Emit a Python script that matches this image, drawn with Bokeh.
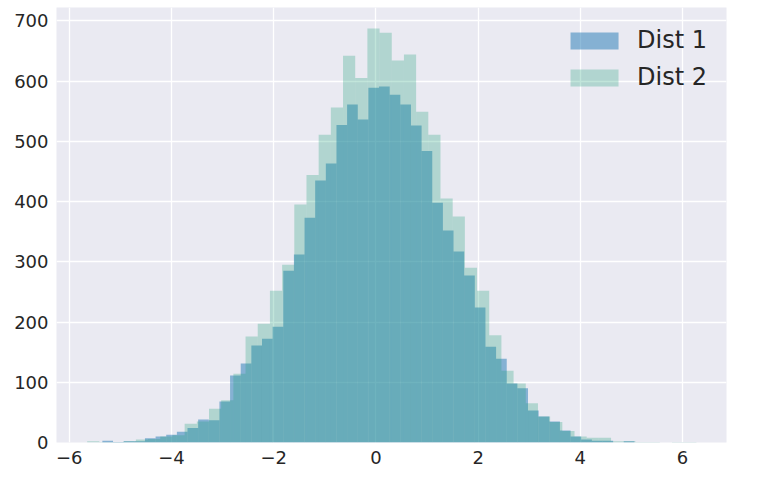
import numpy as np
from bokeh.plotting import figure
from bokeh.models import FixedTicker, Range1d, Legend, LegendItem
from bokeh.embed import file_html
from bokeh.resources import INLINE

# ---- data ----
series_names = ["Dist 1", "Dist 2"]

dist1_first_edge = -5.352
dist1_bin_width = 0.2082
dist1_counts = [3, 1, 2, 2, 7, 10, 13, 18, 24, 38,
                37, 68, 111, 131, 161, 172, 192, 285, 312, 373,
                435, 463, 527, 561, 536, 589, 591, 577, 561, 526,
                484, 398, 352, 317, 277, 224, 159, 139, 98, 90,
                53, 43, 35, 20, 10, 5, 3, 3, 0, 2]

dist2_first_edge = -5.65
dist2_bin_width = 0.2384
dist2_counts = [2, 1, 1, 2, 5, 6, 10, 12, 31, 35,
                56, 70, 114, 176, 197, 252, 295, 395, 444, 511,
                556, 642, 605, 687, 680, 634, 644, 549, 511, 405,
                375, 290, 252, 178, 119, 98, 65, 43, 34, 19,
                10, 8, 8, 2, 2, 1, 1, 0, 1, 1]

x_ticks = [-6, -4, -2, 0, 2, 4, 6]
x_tick_labels = ["\u22126", "\u22124", "\u22122", "0", "2", "4", "6"]
y_ticks = [0, 100, 200, 300, 400, 500, 600, 700]

# ---- figure ----
p = figure(width=760, height=476, output_backend="svg", toolbar_location=None,
           x_range=Range1d(-6.25, 6.86), y_range=Range1d(0, 722),
           min_border_left=56, min_border_right=34, min_border_top=7,
           min_border_bottom=34)
p.background_fill_color = "#eaeaf2"
p.border_fill_color = "white"
p.outline_line_color = None

for ax in (p.xaxis[0], p.yaxis[0]):
    ax.axis_line_color = None
    ax.major_tick_line_color = None
    ax.minor_tick_line_color = None
    ax.major_tick_out = 0
    ax.major_tick_in = 0
    ax.major_label_text_font = "DejaVu Sans"
    ax.major_label_text_font_size = "18px"
    ax.major_label_text_color = "#262626"
    ax.major_label_standoff = 8

p.xaxis[0].ticker = FixedTicker(ticks=x_ticks)
p.xaxis[0].major_label_overrides = {t: l for t, l in zip(x_ticks, x_tick_labels)}
p.yaxis[0].ticker = FixedTicker(ticks=y_ticks)
p.yaxis[0].major_label_standoff = 8

p.xgrid.grid_line_color = "white"
p.ygrid.grid_line_color = "white"
p.xgrid.grid_line_width = 1.3
p.ygrid.grid_line_width = 1.3

e1 = dist1_first_edge + dist1_bin_width * np.arange(len(dist1_counts) + 1)
e2 = dist2_first_edge + dist2_bin_width * np.arange(len(dist2_counts) + 1)

r1 = p.quad(left=e1[:-1], right=e1[1:], bottom=0, top=dist1_counts,
            fill_color="#1f77b4", fill_alpha=0.5, line_color=None)
r2 = p.quad(left=e2[:-1], right=e2[1:], bottom=0, top=dist2_counts,
            fill_color="#1b9e77", fill_alpha=0.27, line_color=None)

legend = Legend(items=[LegendItem(label=series_names[0], renderers=[r1]),
                       LegendItem(label=series_names[1], renderers=[r2])],
                location="top_right")
legend.label_text_font = "DejaVu Sans"
legend.label_text_font_size = "24px"
legend.label_text_color = "#262626"
legend.glyph_width = 60
legend.glyph_height = 21
legend.label_standoff = 13
legend.spacing = 9
legend.margin = 7
legend.padding = 12
legend.border_line_alpha = 0
legend.background_fill_alpha = 0
p.add_layout(legend)

open("out.html", "w").write(file_html(p, INLINE))
